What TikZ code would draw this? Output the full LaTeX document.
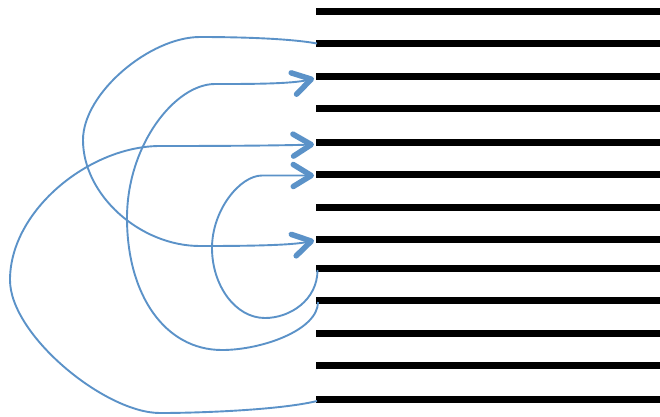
\documentclass[tikz,border=0pt]{standalone}
\usetikzlibrary{arrows.meta}
\definecolor{curveblue}{RGB}{91,146,200}
\begin{document}
\begin{tikzpicture}[x=1pt,y=-1pt,
  bar/.style={line width=7pt, black},
  link/.style={draw=curveblue, line width=1.9pt},
  arrowlink/.style={link, -{Straight Barb[length=18pt,width=22pt,line width=5.5pt,round]}}]
\useasboundingbox (0,0) rectangle (660,416);
% horizontal bars
\foreach \i/\y in {1/11.3,2/43.3,3/76.3,4/108.3,5/142.3,6/174.7,7/207.3,8/239.3,9/268.7,10/300.3,11/333.3,12/365.3,13/399.3}{
  \coordinate (L\i) at (316,\y);
  \coordinate (R\i) at (660,\y);
  \draw[bar] (L\i) -- (R\i);
}
% connector end points
\coordinate (a0) at (317,43.5);
\coordinate (a1) at (314,240.5);
\coordinate (b0) at (318,302);
\coordinate (b1) at (314,78.5);
\coordinate (c0) at (317,401);
\coordinate (c1) at (314,144.5);
\coordinate (d0) at (317.5,270);
\coordinate (d1) at (314,175.5);
% curve A: line 2 -> line 8
\draw[arrowlink] (a0) .. controls (290,38.5) and (240,37) .. (200,37)
  .. controls (150,37) and (83,93) .. (83,140)
  .. controls (83,195) and (140,246) .. (200,246)
  .. controls (245,246) and (292,245.5) .. (a1);
% curve B: line 10 -> line 3
\draw[arrowlink] (b0) .. controls (318,330) and (262,350) .. (222,350)
  .. controls (165,350) and (127,295) .. (127,218)
  .. controls (127,145) and (175,84) .. (215,84)
  .. controls (250,84) and (292,84) .. (b1);
% curve C: line 13 -> line 5
\draw[arrowlink] (c0) .. controls (280,410) and (200,413) .. (160,413)
  .. controls (105,413) and (10,335) .. (10,280)
  .. controls (10,210) and (90,146) .. (160,146)
  .. controls (230,146) and (280,145.5) .. (c1);
% curve D: line 9 -> line 6
\draw[arrowlink] (d0) .. controls (317.5,300) and (290,318) .. (265,318)
  .. controls (235,318) and (212,285) .. (212,248)
  .. controls (212,210) and (240,175.5) .. (262,175.5)
  .. controls (280,175.5) and (300,175.5) .. (d1);
\end{tikzpicture}
\end{document}
